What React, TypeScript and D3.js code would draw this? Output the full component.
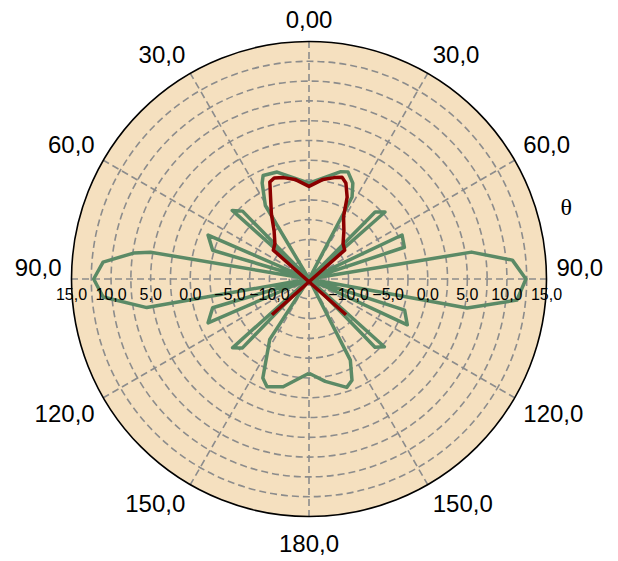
import React from 'react';
import * as d3 from 'd3';

// ---- data (theta in degrees, clockwise from top; value in dB) ----
const greenTheta = [-180, -166.5, -158.7, -155, -147, -142, -136, -132, -127, -113.5, -106.6, -104, -100, -95, -90, -85.3, -81.6, -80.4, -76, -73.4, -66.5, -62, -48.2, -44.4, -40, -30.7, -26, -23.9, -16.6, 0, 16.2, 20, 24.6, 27.7, 38, 44.6, 48.6, 58, 64.7, 71.6, 76, 80.6, 84.7, 90, 95.8, 100.4, 104, 108, 115, 120, 132, 136, 142, 153, 157, 160.8, 171, 180];
const greenValue = [-3.1, -1.0, -0.4, -1.2, -5.9, -15, -2.9, -2.0, -15, -1.1, -2.3, -15, 5.8, 11.1, 12.2, 11.1, 7.4, 5.3, -15, -2.3, -1.1, -15, -2.0, -3.0, -15, -4.2, -1.5, -0.7, -0.9, -2.9, -0.9, -0.6, -1.7, -3.3, -15, -3.1, -2.2, -15, -2.0, -2.3, -15, 5.8, 10.8, 12.4, 11.4, 5.3, -15, -2.3, -1.3, -15, -2.2, -3.0, -15, -3.5, -1.1, -0.5, -1.9, -3.1];

const redTheta = [-46, -51, -44, -36, -30, -25, -22, -19, -14, -8, 0, 8, 14, 18, 21, 25, 29, 36, 44, 51, 46];
const redValue = [-21.5, -9.2, -8.8, -7.5, -5.5, -3.5, -1.8, -1.5, -1.8, -2.3, -3.3, -2.3, -1.8, -1.5, -2.0, -3.6, -6.0, -7.5, -8.8, -9.2, -21.5];

const angleTicks = [0, 30, 60, 90, 120, 150, 180, -150, -120, -90, -60, -30];
const angleTickLabels = ['0,00', '30,0', '60,0', '90,0', '120,0', '150,0', '180,0', '150,0', '120,0', '90,0', '60,0', '30,0'];

const radialTicks = [-10, -5, 0, 5, 10, 15];
const radialTickLabels = ['\u221210,0', '\u22125,0', '0,0', '5,0', '10,0', '15,0'];

const rMin = -15;
const rMax = 15;
const gridStep = 2.5;

export default function App() {
  const W = 618, H = 561;
  const cx = 309, cy = 279, R = 237.5;
  const r = d3.scaleLinear().domain([rMin, rMax]).range([0, R]);
  const toRad = (d: number) => (d * Math.PI) / 180;

  const line = d3
    .lineRadial<[number, number]>()
    .angle((d) => toRad(d[0]))
    .radius((d) => r(d[1]));

  const green: [number, number][] = greenTheta.map((t, i) => [t, greenValue[i]]);
  const red: [number, number][] = redTheta.map((t, i) => [t, redValue[i]]);

  const gridCircles = d3.range(rMin + gridStep, rMax - 0.01, gridStep);
  const spokes = d3.range(0, 360, 30);

  const font = "'Liberation Sans', Arial, sans-serif";
  const pad = 10;
  const gridStroke = '#8c8c8c';

  return (
    <svg width={W} height={H} style={{ position: 'absolute', left: 0, top: 0 }}>
      <g transform={`translate(${cx},${cy})`}>
        <circle r={R} fill="#f5e0bf" />
        {gridCircles.map((v) => (
          <circle key={v} r={r(v)} fill="none" stroke={gridStroke} strokeWidth={1.6} strokeDasharray="7,4" />
        ))}
        {spokes.map((a) => (
          <line
            key={a}
            x1={0}
            y1={0}
            x2={R * Math.sin(toRad(a))}
            y2={-R * Math.cos(toRad(a))}
            stroke={gridStroke}
            strokeWidth={1.6}
            strokeDasharray="7,4"
          />
        ))}
        <path d={line(green) || ''} fill="none" stroke="#5b8a66" strokeWidth={3.5} strokeLinejoin="round" />
        <path d={line(red) || ''} fill="none" stroke="#8b0000" strokeWidth={3.5} strokeLinejoin="round" />
        <circle r={R} fill="none" stroke="#000" strokeWidth={1.6} />
        {radialTicks.map((v, i) => (
          <g key={v}>
            <text x={r(v)} y={21} textAnchor="middle" fontFamily={font} fontSize={16} fill="#000">
              {radialTickLabels[i]}
            </text>
            <text x={-r(v)} y={21} textAnchor="middle" fontFamily={font} fontSize={16} fill="#000">
              {radialTickLabels[i]}
            </text>
          </g>
        ))}
        {angleTicks.map((a, i) => {
          const s = Math.sin(toRad(a));
          const c = Math.cos(toRad(a));
          const ax = (R + pad) * s;
          const ay = -(R + pad) * c;
          const anchor = s > 0.01 ? 'start' : s < -0.01 ? 'end' : 'middle';
          const cap = 17;
          let baseline;
          if (c > 0.99) baseline = ay - 4;
          else if (c > 0.01) baseline = ay - 2;
          else if (c < -0.99) baseline = ay + cap + 8;
          else if (c < -0.01) baseline = ay + cap + 2;
          else baseline = ay + cap / 2 - 12;
          return (
            <text key={i} x={ax} y={baseline} textAnchor={anchor} fontFamily={font} fontSize={24} fill="#000">
              {angleTickLabels[i]}
            </text>
          );
        })}
        <text x={R + 14} y={-64} fontFamily="'Liberation Serif', 'Times New Roman', serif" fontSize={24} fill="#000">
          θ
        </text>
      </g>
    </svg>
  );
}
